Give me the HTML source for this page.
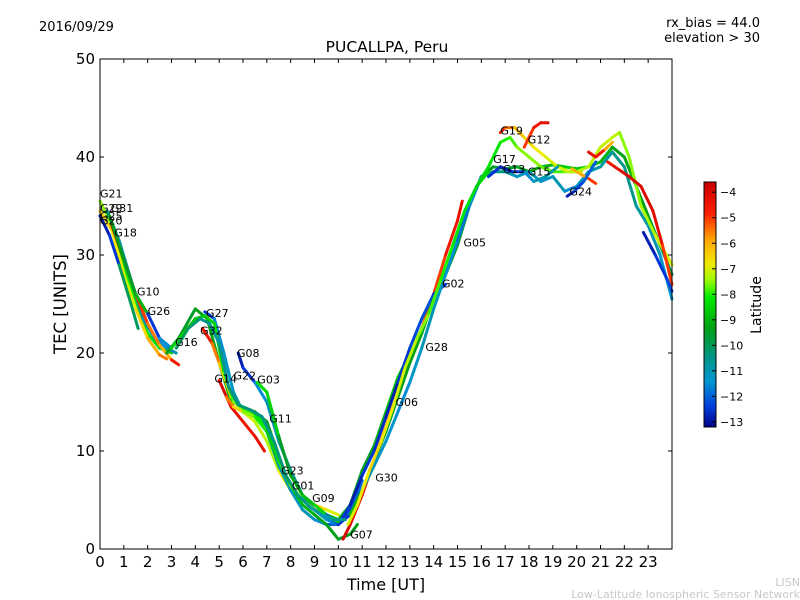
<!DOCTYPE html>
<html><head><meta charset="utf-8"><style>
body{margin:0;background:#fff;}
svg{display:block;font-family:"DejaVu Sans","Liberation Sans",sans-serif;}
</style></head><body>
<svg id="chart" width="800" height="600">
<rect width="800" height="600" fill="#fff"/>
<text x="39" y="31" font-size="13">2016/09/29</text>
<text x="760" y="27" font-size="13" text-anchor="end">rx_bias = 44.0</text>
<text x="760" y="42" font-size="13" text-anchor="end">elevation &gt; 30</text>
<text x="387" y="52" font-size="15.5" text-anchor="middle">PUCALLPA, Peru</text>
<text x="386" y="590" font-size="16" text-anchor="middle">Time [UT]</text>
<text x="66" y="304" font-size="16.5" text-anchor="middle" transform="rotate(-90 66 304)">TEC [UNITS]</text>
<text x="800" y="586" font-size="11" fill="#c8c8c8" text-anchor="end">LISN</text>
<text x="800" y="598" font-size="11" fill="#c8c8c8" text-anchor="end">Low-Latitude Ionospheric Sensor Network</text>
<g id="plot"></g>
<g id="cbar"></g>
</svg>
<script>
const xTicks=[0,1,2,3,4,5,6,7,8,9,10,11,12,13,14,15,16,17,18,19,20,21,22,23];
const yTicks=[0,10,20,30,40,50];
const cbTicks=[-4,-5,-6,-7,-8,-9,-10,-11,-12,-13];
const s01t=[0,0.5,1,1.5,2,2.5,3];          const s01v=[35.5,33,29,25,22,20.5,20];       const s01l=[-7.5,-7.8,-8,-8.2,-8.3,-8.5,-8.8];
const s02t=[0,0.5,1,1.5,2,2.5,2.8];        const s02v=[34.5,32.5,28,24.5,21.5,19.8,19.4]; const s02l=[-6.5,-6.8,-7,-6.5,-6,-5.5,-4.5];
const s03t=[0.3,0.8,1.3,1.8,2.3,2.8,3.2];  const s03v=[34.5,31.5,27.5,23.5,21.5,20.5,20];   const s03l=[-10.5,-10.8,-10.5,-11,-11.5,-11,-10];
const s04t=[0,0.4,0.8,1.3,1.6];            const s04v=[34,32,29,25,22.5];               const s04l=[-12.8,-12.5,-10,-10,-10.2];
const s05t=[0.5,1,1.5,2,2.5,3,3.3];        const s05v=[33,29.5,26,23,20.8,19.3,18.8];   const s05l=[-3.9,-4.2,-5,-5.5,-6,-4.5,-3.9];
const s06t=[0.4,1,1.5,2,2.5,3];            const s06v=[34,29.5,26,24,21.5,20.5];         const s06l=[-9.3,-9.5,-9,-12.5,-11.5,-10];
const s07t=[2.8,3.3,4,4.5,5,5.5,6,6.5,7,7.5,8,8.5,9,9.5,10,10.5]; const s07v=[20,21.5,24.5,23.5,19,15,14.5,14,13,9.5,6,5,4,3.5,3,3.5]; const s07l=[-9.5,-9.5,-9.3,-9.2,-9,-9,-9.2,-9.3,-9.4,-9.5,-9.6,-9.5,-9.3,-9,-8.5,-8];
const s08t=[4.3,4.7,5,5.5,6,6.5,7,7.5,8,8.5,9,9.5,10]; const s08v=[22.5,21,19,15.5,14,13,11,8,6,5,4.5,4,3.5]; const s08l=[-4.5,-5.5,-6.3,-6.8,-7,-7.2,-7.3,-6.8,-5.8,-6,-6.5,-7,-7];
const s09t=[4.4,4.8,5.2,5.6,6,6.5,7,7.5,8,8.5,9,9.5,10,10.5,11,11.5,12]; const s09v=[24.2,23.5,20,16,14,13.5,12,8.5,6,4,3,2.5,2.5,4,8,10.5,13.5]; const s09l=[-12.5,-11.5,-11.3,-11,-10.5,-10.5,-10.8,-11,-11.2,-11,-11.5,-12,-12.2,-12.5,-12.3,-12.5,-12.6];
const s10t=[5.8,6,6.5,7,7.5,8,8.5,9,9.5,10,10.5,11]; const s10v=[20,18.5,17,15,11,8,5.5,4,3,2.5,3.5,7]; const s10l=[-12.8,-12.5,-11.5,-11,-10.8,-10.5,-10.5,-11,-11.5,-12.5,-12,-11];
const s11t=[6.6,7,7.5,8,8.5,9,9.5,10,10.5,11,11.5,12,12.5,13,13.5]; const s11v=[17,16,11.5,7.5,5.5,4.5,3.5,3,4.5,8,10.5,14,17.5,20,22]; const s11l=[-8.3,-8.5,-9.5,-9.2,-8.8,-8.5,-8.8,-9,-9.5,-9.3,-9,-8.8,-8.5,-8,-7.5];
const s12t=[5,5.5,6,6.5,6.9];               const s12v=[17.2,14.5,13,11.5,10];            const s12l=[-4,-4.3,-4.5,-4.2,-4];
const s13t=[5.3,5.6,6,6.5,7,7.5,8,8.5,9,9.5,10,10.5,10.8]; const s13v=[15.5,14.5,14,13.5,12,9,6.5,4.5,3.5,2.5,1,1.5,2.5]; const s13l=[-5.5,-6.5,-7.5,-8,-8.5,-8.5,-8.8,-9,-9.2,-9.3,-9.5,-9.3,-9];
const s14t=[10.2,10.5,11,11.5,12,12.5,13,13.5,14,14.5,15,15.2]; const s14v=[1,2.5,5.5,9,12.5,16,19.5,22.5,26,30,33.5,35.5]; const s14l=[-4,-4.2,-4.3,-4.5,-5,-5.5,-5.8,-5.3,-5,-4.5,-4.2,-3.9];
const s15t=[9.5,10,10.5,11,11.5,12,12.5,13,13.5,14,14.5]; const s15v=[3.5,2.5,4.5,7.5,10,13.5,17,20.5,23.5,26,27]; const s15l=[-12,-12.5,-12.8,-12.5,-12.6,-12.8,-12.5,-12.3,-12.2,-12.5,-13];
const s16t=[10.5,11,11.5,12,12.5,13,13.5,14,14.5,15,15.5,16,16.5,17,17.5,18,18.5,19,19.5,20,20.5,21,21.5,22,22.5,23,23.5,24]; const s16v=[3.5,6,9,12,15.5,19,22,25.5,28,31,35,38,39,38.8,39,38.5,39,39.2,39,38.8,39,39.5,41,40,37,34,31,28]; const s16l=[-9,-9.2,-9.3,-9.5,-9.4,-9.3,-9.2,-9.4,-9.5,-9.6,-9.5,-9.3,-9.5,-9.6,-9.4,-9.2,-9,-8.8,-8.5,-8.6,-8.8,-9,-9.3,-9.2,-9.3,-9.5,-10,-10.5];
const s17t=[11,11.5,12,12.5,13,13.5,14,14.5,15,15.5,16,16.5,17,17.5,18,18.5,19,19.5,20,20.5,21,21.5,22,22.5,23,23.5,24]; const s17v=[6,8.5,11,14,17,20.5,24.5,28,31.5,35,38,38.5,38.5,38,38.5,37.5,38,36.5,37,38.5,39,40.5,39,35,33,30,25.5]; const s17l=[-11,-11.2,-11.3,-11.5,-11.3,-11,-11.2,-11.5,-11.8,-11.5,-10.5,-10.5,-11,-11.2,-11,-11.3,-11,-11.5,-11.2,-11,-10.8,-10.5,-10.5,-10.8,-11,-11.3,-11.5];
const s18t=[15.8,16.3,16.8,17.2,17.5,18,18.5,19,19.5,20,20.5,21,21.5,21.8,22.2,22.7,23.3,24]; const s18v=[37,39,41.5,42,41,40,39,38.5,38.5,38.5,39,41,42,42.5,40,35,32,29]; const s18l=[-8.3,-8.2,-8,-7.8,-7.5,-7.5,-7.7,-7.8,-7.5,-7.3,-7.2,-7.1,-7.2,-7.5,-7.5,-7.3,-7,-6.8];
const s19t=[16.8,17,17.4,17.8,18.2,18.7,19.2,19.7,20.2]; const s19v=[42.5,43,43,42,41,40,39,38.5,38.5]; const s19l=[-4.5,-5.5,-6.2,-6.6,-6.8,-7,-7,-7.2,-7];
const s20t=[17.8,18.2,18.5,18.8];          const s20v=[41,43,43.5,43.5];                 const s20l=[-5,-4.5,-4.2,-4];
const s21t=[19.8,20.2,20.5,20.8];          const s21v=[38.8,38.2,37.8,37.3];             const s21l=[-6,-5.8,-5,-4.3];
const s22t=[20.5,20.8,21.2,21.5];          const s22v=[40.5,40,40.8,41.5];               const s22l=[-4.2,-4.5,-6,-6.5];
const s23t=[21.3,21.6,21.9,22.2,22.7,23.2,23.6,24]; const s23v=[39.5,39,38.5,38,37,34.5,31,27]; const s23l=[-4.5,-4.2,-4,-3.9,-4,-4.2,-5,-6];
const s24t=[22.8,23.3,23.8,24];            const s24v=[32.3,30,27.5,26.3];               const s24l=[-12.8,-12.5,-12.3,-12.2];
const s25t=[19.6,19.9,20.3,20.8];          const s25v=[36,36.5,37.5,39.5];               const s25l=[-12.8,-12.3,-12,-12.5];
const s26t=[16.3,16.8,17.3,17.8,18.2,18.7,19.2]; const s26v=[38,39,38.5,38.5,37.5,38,39]; const s26l=[-12.5,-12.8,-12.5,-11.5,-11,-10.8,-10.5];
const s27t=[3,3.5,4,4.4,4.8,5.2,5.6,6,6.5,7,7.5,8,8.5,9,9.5,10]; const s27v=[20.5,22,23.5,23.8,23,18,15,14.3,13.8,12.5,9,6.5,5,4,3.3,2.8]; const s27l=[-8.5,-8.6,-8.7,-8.5,-8.3,-7.8,-7.5,-7.8,-8.2,-8.5,-8,-7.5,-7.5,-8,-8.5,-9];
const s28t=[3.2,3.7,4.2,4.6,5,5.4,5.8,6.3,6.8,7.3,7.8,8.3,8.8,9.3,9.8,10.3]; const s28v=[20.5,22.5,23.5,23,21,16.5,14.7,14.2,13.5,11,7.5,5.5,4.3,3.5,3,3]; const s28l=[-10,-10.2,-10.5,-10.8,-10.5,-10.3,-10.2,-10.4,-10.5,-10.3,-10.2,-10.5,-10.8,-11,-10.5,-10];
const s29t=[10.4,10.8,11.3,11.8,12.3,12.8,13.3,13.8,14.3,14.8,15.3,15.8,16.3]; const s29v=[2.5,4.5,8,11,14.5,18.5,21.5,24,27.5,31,34.5,37,38.5]; const s29l=[-7,-6.8,-6.5,-6.8,-7,-7.2,-7.5,-7.8,-8,-8.2,-8.3,-8.5,-8.5];
const seriesT=[s01t,s02t,s03t,s04t,s05t,s06t,s07t,s08t,s09t,s10t,s11t,s12t,s13t,s14t,s15t,s16t,s17t,s18t,s19t,s20t,s21t,s22t,s23t,s24t,s25t,s26t,s27t,s28t,s29t];
const seriesV=[s01v,s02v,s03v,s04v,s05v,s06v,s07v,s08v,s09v,s10v,s11v,s12v,s13v,s14v,s15v,s16v,s17v,s18v,s19v,s20v,s21v,s22v,s23v,s24v,s25v,s26v,s27v,s28v,s29v];
const seriesL=[s01l,s02l,s03l,s04l,s05l,s06l,s07l,s08l,s09l,s10l,s11l,s12l,s13l,s14l,s15l,s16l,s17l,s18l,s19l,s20l,s21l,s22l,s23l,s24l,s25l,s26l,s27l,s28l,s29l];
const labelNames=["G21","G29","G31","G25","G20","G18","G10","G26","G16","G27","G32","G08","G14","G22","G03","G11","G23","G01","G09","G07","G30","G06","G28","G02","G05","G19","G12","G17","G13","G15","G24"];
const labelT=[0,0,0.45,0,0,0.6,1.55,2.0,3.15,4.45,4.2,5.75,4.8,5.6,6.6,7.1,7.6,8.05,8.9,10.5,11.55,12.4,13.65,14.35,15.25,16.8,17.95,16.5,16.9,17.95,19.7];
const labelV=[36.3,34.8,34.8,34.0,33.5,32.3,26.3,24.3,21.1,24.1,22.3,20.0,17.4,17.7,17.3,13.3,8.0,6.5,5.2,1.5,7.3,15.0,20.6,27.1,31.3,42.7,41.8,39.8,38.8,38.5,36.5];

const X0=100,X1=672,Y0=549,Y1=59;
const xs=t=>X0+t/24*(X1-X0);
const ys=v=>Y0-v/50*(Y0-Y1);
const CB_TOP=182,CB_BOT=427,LAT_TOP=-3.6,LAT_BOT=-13.2;
const cy=l=>CB_TOP+(LAT_TOP-l)/(LAT_TOP-LAT_BOT)*(CB_BOT-CB_TOP);
const stops=[[-3.6,[200,0,0]],[-4.8,[255,30,0]],[-5.8,[255,160,0]],[-6.8,[240,235,0]],[-7.4,[160,250,0]],[-8.1,[0,235,0]],[-9.3,[0,160,20]],[-10.4,[0,150,130]],[-11.4,[0,150,210]],[-12.4,[0,60,220]],[-13.2,[0,0,130]]];
function col(l){
  if(l>=stops[0][0])return 'rgb('+stops[0][1]+')';
  for(let i=0;i<stops.length-1;i++){const a=stops[i],b=stops[i+1];
    if(l<=a[0]&&l>=b[0]){const f=(a[0]-l)/(a[0]-b[0]);return 'rgb('+a[1].map((c,k)=>Math.round(c+(b[1][k]-c)*f)).join(',')+')';}}
  return 'rgb('+stops[stops.length-1][1]+')';
}
const NS='http://www.w3.org/2000/svg';
function mk(tag,attrs,parent){const e=document.createElementNS(NS,tag);for(const k in attrs)e.setAttribute(k,attrs[k]);parent.appendChild(e);return e;}
const plot=document.getElementById('plot');
seriesT.forEach((ts,si)=>{
  const g=mk('g',{},plot);
  
  
  for(let i=0;i<ts.length-1;i++){
    const ln=mk('line',{x1:xs(ts[i]),y1:ys(seriesV[si][i]),x2:xs(ts[i+1]),y2:ys(seriesV[si][i+1]),stroke:col(seriesL[si][i]),'stroke-width':3,'stroke-linecap':'round'},g);
    
    
  }
});
labelNames.forEach((n,i)=>{
  const t=mk('text',{x:xs(labelT[i]),y:ys(labelV[i])+4,'font-size':11},plot);
  t.textContent=n;
  
  
});
const fr=mk('rect',{x:X0,y:Y1,width:X1-X0,height:Y0-Y1,fill:'none',stroke:'#000','stroke-width':1},plot);


xTicks.forEach(t=>{
  const x=xs(t);
  mk('line',{x1:x,y1:Y0,x2:x,y2:Y0-4,stroke:'#000'},plot);
  mk('line',{x1:x,y1:Y1,x2:x,y2:Y1+4,stroke:'#000'},plot);
  const tx=mk('text',{x:x,y:Y0+18,'font-size':15,'text-anchor':'middle'},plot);
  tx.textContent=t;
  
  
});
yTicks.forEach(v=>{
  const y=ys(v);
  mk('line',{x1:X0,y1:y,x2:X0+4,y2:y,stroke:'#000'},plot);
  mk('line',{x1:X1,y1:y,x2:X1-4,y2:y,stroke:'#000'},plot);
  const tx=mk('text',{x:X0-5,y:y+5,'font-size':15,'text-anchor':'end'},plot);
  tx.textContent=v;
  
  
});
const cb=document.getElementById('cbar');
for(let y=CB_TOP;y<CB_BOT;y++){
  const l=LAT_TOP-(y-CB_TOP)/(CB_BOT-CB_TOP)*(LAT_TOP-LAT_BOT);
  mk('rect',{x:704,y:y,width:12,height:1.2,fill:col(l)},cb);
}
mk('rect',{x:704,y:CB_TOP,width:12,height:CB_BOT-CB_TOP,fill:'none',stroke:'#000'},cb);
cbTicks.forEach(l=>{
  const y=cy(l);
  mk('line',{x1:712,y1:y,x2:716,y2:y,stroke:'#000'},cb);
  const tx=mk('text',{x:720,y:y+4,'font-size':11},cb);
  tx.textContent='\u2212'+Math.abs(l);
  
  
});
const ct=mk('text',{x:761,y:305,'font-size':14,'text-anchor':'middle',transform:'rotate(-90 761 305)'},cb);
ct.textContent='Latitude';


</script>
</body></html>
